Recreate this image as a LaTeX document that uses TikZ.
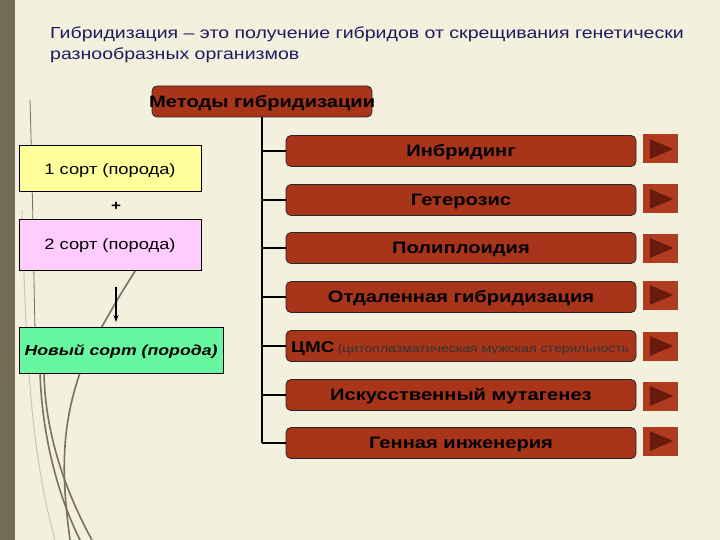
\documentclass[tikz,border=0pt]{standalone}
\usepackage{fontspec}
\setmainfont{Liberation Sans}[FakeStretch=1.22]
\usetikzlibrary{arrows.meta}
\definecolor{bg}{HTML}{F3F0DD}
\definecolor{strip}{HTML}{746B54}
\definecolor{boxred}{HTML}{A8351A}
\definecolor{btnred}{HTML}{B03B1E}
\definecolor{tri}{HTML}{691A0A}
\definecolor{navy}{HTML}{1C1C5E}
\definecolor{grass}{HTML}{7A705C}
\definecolor{yel}{HTML}{FFFF9C}
\definecolor{pink}{HTML}{FFCCFF}
\definecolor{grn}{HTML}{66F7A0}
\tikzset{
  meth/.style={draw=black!85, line width=0.8pt, rounded corners=5pt, fill=boxred,
    minimum width=350pt, minimum height=31pt, inner sep=0pt,
    text height=11.8pt, text depth=0pt,
    font=\bfseries\fontsize{16.5}{18}\selectfont, text=black},
  btn/.style={fill=btnred, minimum width=35pt, minimum height=29pt, inner sep=0pt},
  sortbox/.style={draw=black, line width=0.7pt, minimum width=182pt, minimum height=46pt,
    inner sep=0pt, text height=10.7pt, text depth=0pt, font=\fontsize{15}{18}\selectfont},
  branch/.style={line width=1.2pt, black},
  grassline/.style={grass, line width=1.6pt},
}
\begin{document}
\begin{tikzpicture}[x=1pt,y=-1pt]
\useasboundingbox (0,0) rectangle (720,540);
\fill[bg] (0,0) rectangle (720,540);
\fill[strip] (0,0) rectangle (15,540);
% grass
\draw[grass, line width=0.8pt] (30,100) .. controls (33,200) and (34,300) .. (36,372);
\draw[grassline] (44,372) .. controls (45,440) and (70,500) .. (92,540);
\draw[grassline] (40,372) .. controls (42,440) and (60,500) .. (80,540);
\draw[grassline] (137,268) .. controls (120,295) .. (100,330);
\draw[grassline] (80,373) .. controls (60,430) and (62,480) .. (70,540);
\draw[grass!40, line width=1pt] (22,210) .. controls (26,350) and (30,450) .. (55,540);
% title
\node[anchor=north west, inner sep=0pt, align=left, text=navy,
  font=\fontsize{16}{21}\selectfont] (title) at (50,26.5)
  {Гибридизация – это получение гибридов от скрещивания генетически\\разнообразных организмов};
% main box
\node[draw=black!85, line width=0.8pt, rounded corners=5pt, fill=boxred,
  minimum width=220pt, minimum height=31pt, inner sep=0pt] (main) at (262,101.5) {};
\node[font=\bfseries\fontsize{16.5}{18}\selectfont, text=black, anchor=west, inner sep=0pt,
  text height=11.8pt, text depth=0pt]
  (maintext) at (149,102) {Методы гибридизации};
% branch boxes
\node[meth] (b1) at (461,151) {Инбридинг};
\node[meth] (b2) at (461,200) {Гетерозис};
\node[meth] (b3) at (461,248) {Полиплоидия};
\node[meth] (b4) at (461,297) {Отдаленная гибридизация};
\node[meth] (b5) at (461,346) {};
\node[anchor=base west, inner sep=0pt, text=black] (b5t) at (291,352)
  {{\bfseries\fontsize{15.5}{18}\selectfont ЦМС} {\fontsize{11.5}{12}\selectfont\color{black!80}(цитоплазматическая мужская стерильность}};
\node[meth] (b6) at (461,395) {Искусственный мутагенез};
\node[meth] (b7) at (461,443) {Генная инженерия};
% trunk and branches
\coordinate (bot) at (262,443);
\draw[branch] (main.south) -- (bot);
\foreach \i/\y in {1/151,2/200,3/248,4/297,5/346,6/395,7/443}{
  \draw[branch] (262,\y) -- (b\i.west);
}
% buttons
\foreach \i/\y in {1/149,2/199,3/248,4/295,5/346,6/396,7/441}{
  \node[btn] (p\i) at (660.5,\y) {};
  \fill[tri] ([xshift=7pt,yshift=-10pt]p\i.west) -- ([xshift=7pt,yshift=10pt]p\i.west) -- ([xshift=-5pt]p\i.east) -- cycle;
}
% left boxes
\node[sortbox, fill=yel] (s1) at (110,168) {\raisebox{-1.5pt}{1 сорт (порода)}};
\node[font=\bfseries\fontsize{14}{16}\selectfont] (plus) at (116,206) {+};
\node[sortbox, fill=pink, minimum height=51pt] (s2) at (110,244.5) {2 сорт (порода)};
\node[sortbox, fill=grn, minimum width=204pt, font=\fontsize{14.5}{18}\selectfont] (s3) at (121,350)
  {\bfseries\itshape Новый сорт (порода)};
\coordinate (a1) at (116,287);
\coordinate (a2) at (116,322);
\draw[line width=1.2pt, -{Stealth[length=7pt,width=5pt]}] (a1) -- (a2);
\end{tikzpicture}
\end{document}
